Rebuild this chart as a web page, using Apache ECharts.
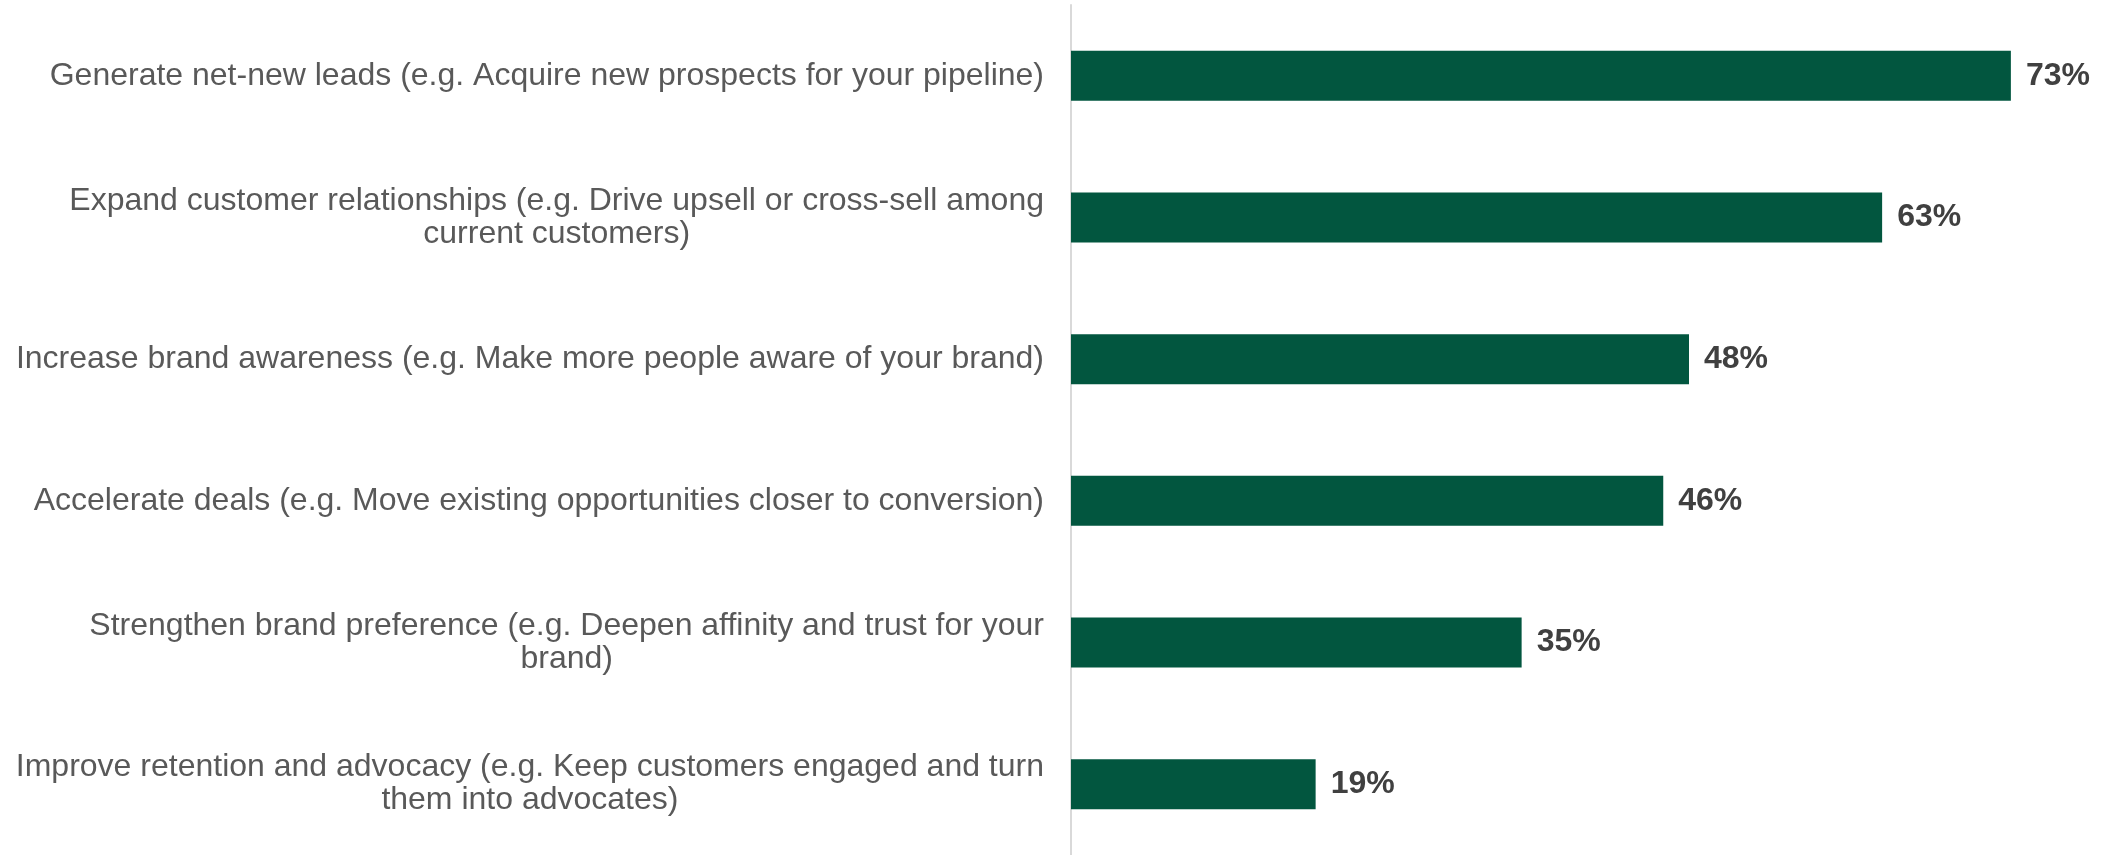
<!DOCTYPE html>
<html>
<head>
<meta charset="utf-8">
<script src="https://cdn.jsdelivr.net/npm/echarts@6/dist/echarts.min.js"></script>
<style>
  html, body { margin: 0; padding: 0; background: #ffffff; }
  #chart { width: 2106px; height: 855px; }
</style>
</head>
<body>
<div id="chart"></div>
<script>
// Objectives, top to bottom; '\n' marks where a long label wraps
const categories = [
  'Generate net-new leads (e.g. Acquire new prospects for your pipeline)',
  'Expand customer relationships (e.g. Drive upsell or cross-sell among\ncurrent customers)',
  'Increase brand awareness (e.g. Make more people aware of your brand)',
  'Accelerate deals (e.g. Move existing opportunities closer to conversion)',
  'Strengthen brand preference (e.g. Deepen affinity and trust for your\nbrand)',
  'Improve retention and advocacy (e.g. Keep customers engaged and turn\nthem into advocates)'
];
// Share of respondents, percent
const values = [73, 63, 48, 46, 35, 19];

const FONT = 'Liberation Sans, Arial, sans-serif';
const chart = echarts.init(document.getElementById('chart'), null, { renderer: 'canvas' });

chart.setOption({
  animation: false,
  backgroundColor: '#ffffff',
  grid: { left: 1071, top: 5, width: 1030, height: 856, containLabel: false },
  xAxis: {
    type: 'value',
    min: 0,
    max: 80,
    show: false
  },
  yAxis: {
    type: 'category',
    inverse: true,
    data: categories,
    axisLine: { show: true, lineStyle: { color: '#d9d9d9', width: 2 } },
    axisTick: { show: false },
    splitLine: { show: false },
    axisLabel: {
      margin: 27,
      fontFamily: FONT,
      fontSize: 32,
      color: '#595959',
      lineHeight: 33,
      // each wrapped line is centred within the label block
      formatter: v => v.split('\n').map(l => '{c|' + l + '}').join('\n'),
      rich: {
        c: {
          align: 'center',
          fontFamily: FONT,
          fontSize: 32,
          color: '#595959',
          lineHeight: 33
        }
      }
    }
  },
  series: [{
    type: 'bar',
    data: values,
    barWidth: 50,
    itemStyle: { color: '#02563f' },
    label: {
      show: true,
      position: 'right',
      distance: 15,
      formatter: p => p.value + '%',
      fontFamily: FONT,
      fontWeight: 'bold',
      fontSize: 32,
      color: '#404040'
    }
  }]
});
</script>
</body>
</html>
